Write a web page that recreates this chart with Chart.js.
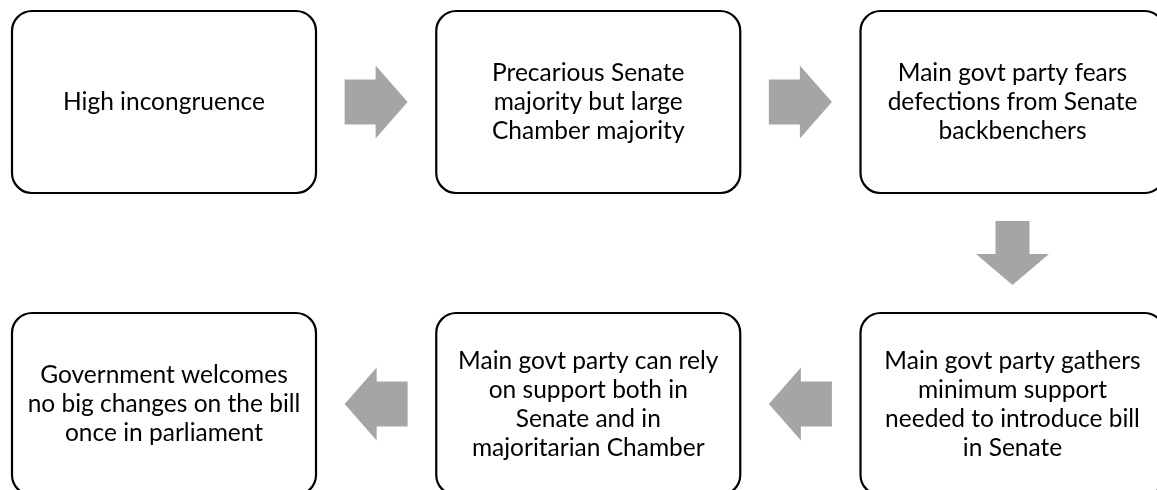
<!DOCTYPE html>
<html>
<head>
<meta charset="utf-8">
<script src="https://cdn.jsdelivr.net/npm/chart.js@4.4.1/dist/chart.umd.min.js"></script>
<style>
  html, body { margin: 0; padding: 0; background: #fff; }
  canvas { display: block; }
</style>
</head>
<body>
<canvas id="flowChart" width="1157" height="490"></canvas>
<script>
// flow steps in reading order: top row left->right, then bottom row right->left
const steps = [
    ["High incongruence"],
    ["Precarious Senate", "majority but large", "Chamber majority"],
    ["Main govt party fears", "defections from Senate", "backbenchers"],
    ["Main govt party gathers", "minimum support", "needed to introduce bill", "in Senate"],
    ["Main govt party can rely", "on support both in", "Senate and in", "majoritarian Chamber"],
    ["Government welcomes", "no big changes on the bill", "once in parliament"]
];
const columns = [0, 1, 2];
const rows = [0, 1];

// snake layout on the column/row grid
const nodes = steps.map((lines, i) => {
    const row = rows[Math.floor(i / columns.length)];
    const k = i % columns.length;
    const col = row === 0 ? columns[k] : columns[columns.length - 1 - k];
    return { x: col, y: row, lines: lines };
});

const BOX_W = 304, BOX_H = 182, RADIUS = 20;
const LINE_H = 29;
const ARROW_COLOR = "#a5a5a5";

function drawArrow(ctx, cx, cy, dx, dy) {
    // block arrow, dx/dy is the unit direction
    const horiz = dx !== 0;
    const shaftHalf = horiz ? 22.5 : 17;
    const headHalf = 36.5;
    const shaftLen = horiz ? 31 : 33;
    const headLen = horiz ? 32 : 31;
    const total = shaftLen + headLen;
    const pts = [
        [-total / 2, -shaftHalf],
        [-total / 2 + shaftLen, -shaftHalf],
        [-total / 2 + shaftLen, -headHalf],
        [total / 2, 0],
        [-total / 2 + shaftLen, headHalf],
        [-total / 2 + shaftLen, shaftHalf],
        [-total / 2, shaftHalf]
    ];
    ctx.beginPath();
    pts.forEach(([a, b], i) => {
        // rotate: along = a, across = b
        const px = cx + a * dx - b * dy;
        const py = cy + a * dy + b * dx;
        if (i === 0) ctx.moveTo(px, py); else ctx.lineTo(px, py);
    });
    ctx.closePath();
    ctx.fillStyle = ARROW_COLOR;
    ctx.fill();
}

const flowPlugin = {
    id: "flowBoxes",
    afterDatasetsDraw(chart) {
        const ctx = chart.ctx;
        const xs = chart.scales.x, ys = chart.scales.y;
        const centers = nodes.map(n => [xs.getPixelForValue(n.x), ys.getPixelForValue(n.y)]);

        ctx.save();
        // arrows between consecutive steps
        for (let i = 0; i < centers.length - 1; i++) {
            const [x1, y1] = centers[i];
            const [x2, y2] = centers[i + 1];
            const dx = Math.sign(x2 - x1), dy = Math.sign(y2 - y1);
            drawArrow(ctx, (x1 + x2) / 2, (y1 + y2) / 2, dx, dy);
        }

        // boxes + text
        ctx.font = "24.5px Lato";
        ctx.textAlign = "center";
        ctx.textBaseline = "alphabetic";
        centers.forEach(([cx, cy], i) => {
            ctx.beginPath();
            ctx.roundRect(cx - BOX_W / 2, cy - BOX_H / 2, BOX_W, BOX_H, RADIUS);
            ctx.fillStyle = "#fff";
            ctx.fill();
            ctx.lineWidth = 2.2;
            ctx.strokeStyle = "#000";
            ctx.stroke();

            const lines = nodes[i].lines;
            ctx.fillStyle = "#000";
            lines.forEach((t, k) => {
                const y = cy + (k - (lines.length - 1) / 2) * LINE_H + 8;
                ctx.fillText(t, cx, y);
            });
        });
        ctx.restore();
    }
};

new Chart(document.getElementById("flowChart").getContext("2d"), {
    type: "scatter",
    data: {
        datasets: [{
            label: "steps",
            data: nodes.map(n => ({ x: n.x, y: n.y })),
            pointRadius: 0,
            pointHoverRadius: 0
        }]
    },
    options: {
        responsive: false,
        animation: false,
        devicePixelRatio: 1,
        layout: { padding: { left: 164, right: 144.5, top: 102, bottom: 86 } },
        scales: {
            x: { type: "linear", min: 0, max: 2, display: false },
            y: { type: "linear", min: 0, max: 1, reverse: true, display: false }
        },
        plugins: {
            legend: { display: false },
            tooltip: { enabled: false }
        }
    },
    plugins: [flowPlugin]
});
</script>
</body>
</html>
